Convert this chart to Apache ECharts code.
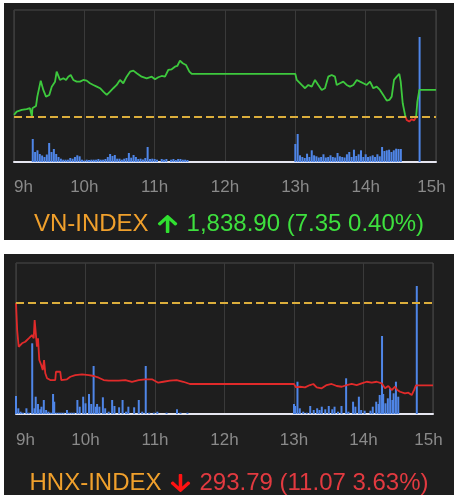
<!DOCTYPE html>
<html>
<head>
<meta charset="utf-8">
<script src="https://cdn.jsdelivr.net/npm/echarts@6/dist/echarts.min.js"></script>
<style>
  html, body { margin: 0; padding: 0; background: #ffffff; }
  body { width: 460px; height: 504px; position: relative; overflow: hidden; }
  .panel { position: absolute; background: #1e1e1e; }
  #vn { left: 4px; top: 3px; width: 450px; height: 237px; }
  #hnx { left: 4px; top: 254px; width: 450px; height: 241px; }
</style>
</head>
<body>
<div id="vn" class="panel"></div>
<div id="hnx" class="panel"></div>
<script>
// ---------- Data (time = minutes after 9:00) ----------
const tickLabels = ['9h', '10h', '11h', '12h', '13h', '14h', '15h'];

// VN-INDEX
const vnName = 'VN-INDEX';
const vnClose = '1,838.90';
const vnChange = '7.35';
const vnPct = '0.40%';
const vnRef = 1831.55;
const vnTime = [0, 2.3, 6.6, 10.8, 13.6, 15.0, 15.3, 15.7, 18.8, 19.9, 22.8, 25.0, 27.3, 30.1, 32.2, 35.0, 36.4, 37.8, 39.2, 42.1, 44.4,
  46.3, 48.4, 50.6, 53.5, 56.3, 59.1, 62.0, 64.8, 67.7, 70.6, 73.4, 76.2, 79.1, 81.9, 84.7, 87.6, 90.4, 93.2, 96.1, 99.0,
  101.8, 104.7, 108.9, 113.2, 117.5, 120.3, 123.1, 126.0, 128.8, 131.6, 134.5, 137.3, 139.3, 141.6, 143.9, 146.7, 149.6, 151.6,
  240, 241.2, 245.4, 248.3, 251.1, 254.0, 256.8, 259.6, 262.5, 265.3, 268.1, 271.0, 273.8, 275.3, 278.1, 280.9, 283.8,
  286.6, 289.5, 292.4, 295.2, 298.0, 300.9, 303.7, 306.5, 309.4, 312.2, 315.0, 318.0, 320.2, 322.2, 324.2, 326.5, 328.7,
  329.9, 331.6, 333.6, 335.0, 337.2, 339.3, 341.2, 343.0, 344.1, 345.8, 360];
const vnPrice = [1832.17, 1833.06, 1833.51, 1833.70, 1833.97, 1833.97, 1831.70, 1833.97, 1834.59, 1837.09, 1841.39, 1838.89, 1837.09, 1837.54, 1839.78, 1841.12, 1843.81, 1844.26, 1841.58, 1842.03, 1841.58,
  1842.46, 1842.92, 1841.58, 1841.12, 1841.12, 1841.58, 1841.39, 1840.69, 1840.23, 1839.78, 1839.35, 1838.43, 1837.54, 1838.43, 1839.35, 1840.23, 1841.58, 1840.69, 1842.46, 1843.81,
  1844.08, 1843.38, 1842.46, 1842.03, 1842.46, 1841.76, 1842.30, 1842.65, 1842.46, 1844.26, 1844.45, 1845.15, 1845.34, 1846.76, 1846.07, 1845.61, 1843.81, 1843.19,
  1843.19, 1841.58, 1840.23, 1839.35, 1840.23, 1839.78, 1841.58, 1840.23, 1838.89, 1839.35, 1842.46, 1842.92, 1842.46, 1840.23, 1840.69, 1841.12, 1840.23,
  1839.78, 1840.23, 1841.58, 1841.12, 1840.69, 1840.23, 1841.12, 1839.35, 1839.78, 1838.89, 1837.54, 1836.01, 1836.20, 1837.09, 1841.58, 1842.46, 1843.19,
  1841.12, 1835.31, 1832.17, 1830.82, 1830.37, 1831.01, 1830.64, 1831.55, 1835.74, 1838.90, 1838.90];
const vnVolTime = [16, 18, 20, 22, 24, 26, 28, 30, 32, 34, 36, 38, 40, 42, 44, 46, 48, 50, 52, 54, 56, 58, 60, 62, 64, 66, 68, 70, 72, 74, 76, 78,
  80, 82, 84, 86, 88, 90, 92, 94, 96, 98, 100, 102, 104, 106, 108, 110, 112, 114, 116, 118, 120, 122, 126, 128, 130, 134, 136, 138, 140, 142, 144, 146, 148,
  240, 242, 244, 246, 248, 250, 252, 254, 256, 258, 260, 262, 264, 266, 268, 270, 272, 274, 276, 278, 280, 282, 284, 286, 288, 290, 292, 294, 296, 298,
  300, 302, 304, 306, 308, 310, 312, 314, 316, 318, 320, 322, 324, 326, 328, 330, 346];
const vnVol = [23, 10, 11.7, 8, 6.5, 5, 7.5, 19, 10, 13, 8, 5, 3.3, 2.3, 2.3, 2.3, 4, 3.3, 5, 6.7, 5.7, 2.3, 1.5, 2.3, 2, 2.3, 2.3, 2.3, 3, 2.3, 2.3, 3,
  5, 8, 6, 7, 3.3, 3.3, 2.3, 3.3, 4, 9, 4.3, 7, 5, 3, 3.3, 2.5, 4, 15, 3, 3.3, 3, 2.3, 3, 2.3, 3, 2.3, 3, 2, 3, 3, 2.3, 2.3, 2,
  18, 28, 6.7, 5, 4, 8.3, 5, 11.7, 6.7, 5.7, 4.5, 5, 7.7, 4.5, 5, 6.7, 5, 4.5, 9, 5.7, 5, 4.5, 7.7, 10, 5, 12.3, 6, 7.7, 11.7, 5,
  7.7, 5, 5.7, 6.7, 5, 7.7, 5.7, 15, 11, 11.7, 12.3, 10, 11.7, 13.3, 13, 13, 125];

// HNX-INDEX
const hnxName = 'HNX-INDEX';
const hnxClose = '293.79';
const hnxChange = '11.07';
const hnxPct = '3.63%';
const hnxRef = 304.86;
const hnxTime = [0, 1, 2, 2.3, 3.7, 5.2, 8.0, 11.0, 13.8, 15.3, 16.1, 17.3, 18.1, 19.0, 20.1, 21.8, 23.1, 24.2, 25.3, 26.8,
  29.6, 33.9, 34.5, 38.2, 39.1, 44.0, 46.9, 51.2, 57.0, 62.8, 67.1, 71.4, 75.7, 80.0, 88.7, 94.4, 100.1, 105.9, 111.6, 117.4,
  122.8, 127.2, 132.9, 138.7, 144.4, 150.2, 240, 241.7, 245.2, 249.5, 253.8, 256.7, 259.6, 263.9, 268.2, 272.5, 276.9, 281.2,
  285.5, 289.8, 294.1, 298.4, 302.8, 307.1, 311.4, 315.7, 318.6, 321.4, 324.3, 327.2, 329.2, 331.5, 335.8, 338.7, 341.6, 343.6, 345.3, 360];
const hnxPrice = [304.86, 301.20, 300.97, 298.96, 298.96, 299.42, 299.63, 300.09, 300.53, 300.09, 302.54, 302.54, 298.96, 300.09, 297.18, 296.51, 295.84, 297.18, 295.40, 294.73,
  294.50, 294.50, 295.61, 295.61, 294.50, 294.60, 294.94, 295.17, 295.27, 295.17, 295.04, 294.81, 294.50, 294.41, 294.41, 294.50, 294.27, 294.50, 294.60, 294.60,
  294.14, 294.27, 294.41, 294.50, 294.27, 293.97, 293.97, 293.52, 293.60, 293.52, 293.83, 293.97, 293.52, 293.39, 293.83, 293.97, 293.70, 293.60,
  293.83, 293.97, 293.83, 294.06, 294.27, 294.14, 294.27, 294.06, 293.39, 293.70, 293.16, 293.60, 293.16, 292.93, 292.72, 292.80, 292.49, 293.16, 293.79, 293.79];
const hnxVolTime = [0, 2, 4, 6, 9, 11, 14, 16, 17, 19, 21, 22, 24, 26, 28, 30, 32, 33, 35, 37, 39, 41, 44, 46, 48, 50, 53, 55, 58, 60, 63, 65, 67, 69, 70, 72,
  75, 77, 80, 83, 85, 89, 92, 95, 97, 102, 106, 109, 112, 115, 119, 122, 130, 139, 142, 148,
  240, 241, 243, 245, 248, 251, 254, 257, 260, 262, 264, 267, 270, 273, 275, 278, 281, 285, 287, 291, 293, 296, 298, 301, 306, 308, 311, 313, 314,
  316, 317, 319, 321, 323, 325, 326, 328, 330, 346];
const hnxVol = [18, 5.7, 2.3, 1.3, 5.7, 1.3, 70.7, 5.7, 17.3, 10, 4.7, 7.3, 14, 4, 2.3, 1.3, 20, 12.3, 1.3, 1.3, 1.3, 1.3, 4, 1.3, 1.3, 1.3, 14, 7.3, 17.3, 10.7, 20, 10, 48, 7.3, 10, 7.3,
  16.7, 5.7, 2.3, 14, 8, 6.7, 14, 2.3, 7.3, 6.7, 14, 2.3, 48, 1.3, 1.3, 2.3, 1.3, 4.7, 1.3, 1.3,
  10, 8, 32.3, 5.7, 2.3, 1.3, 8, 4, 5.7, 4, 7.3, 4.7, 8, 4.7, 7.3, 2.3, 8, 35.7, 2.3, 12.3, 7.3, 17.3, 4, 3.3, 3.3, 7.3, 12.3, 10, 19,
  78, 20, 10.7, 15.7, 25.7, 14, 20.7, 32.3, 17.3, 128];

// ---------- Rendering ----------
const FONT = '"Liberation Sans", Arial, Helvetica, sans-serif';
const GREEN_LINE = '#3dc93d';
const RED_LINE = '#e12a2a';
const BLUE = '#4f86e8';
const REF_COLOR = '#dcae3c';

function zip(a, b) { return a.map((v, i) => [v, b[i]]); }

// solid arrow icon (up / down)
function arrowIcon(up, color) {
  const path = 'M34.9 289.5l-22.2-22.2c-9.4-9.4-9.4-24.6 0-33.9L207 39c9.4-9.4 24.6-9.4 33.9 0l194.3 194.3c9.4 9.4 9.4 24.6 0 33.9L413 289.4c-9.5 9.5-25 9.3-34.3-.4L264 168.6V456c0 13.3-10.7 24-24 24h-32c-13.3 0-24-10.7-24-24V168.6L69.2 289.1c-9.3 9.8-24.8 10-34.3.4z';
  const svg = '<svg xmlns="http://www.w3.org/2000/svg" viewBox="0 30 448 452" width="448" height="452">' +
    '<g' + (up ? '' : ' transform="rotate(180 224 256)"') + '><path fill="' + color + '" d="' + path + '"/></g></svg>';
  return 'data:image/svg+xml;charset=utf-8,' + encodeURIComponent(svg);
}

function buildOption(cfg) {
  return {
    animation: false,
    backgroundColor: '#1e1e1e',
    title: {
      left: 'center',
      top: cfg.titleTop,
      padding: 0,
      text: '{n|' + cfg.name + '}{g|}{a|}{g|}{v|' + cfg.close + ' (' + cfg.change + ' ' + cfg.pct + ')}',
      textStyle: {
        fontWeight: 'normal',
        rich: {
          n: { color: '#f0a02c', fontSize: 24, fontWeight: 'normal', fontFamily: FONT, lineHeight: 28 },
          g: { width: 9, height: 18 },
          a: { width: 20, height: 18, backgroundColor: { image: arrowIcon(cfg.up, cfg.up ? '#30e030' : '#ff1212') } },
          v: { color: cfg.up ? '#3ee03e' : '#e23a40', fontSize: 24, fontWeight: 'normal', fontFamily: FONT, lineHeight: 28 }
        }
      }
    },
    grid: {
      left: cfg.grid[0], top: cfg.grid[1], right: cfg.grid[2], bottom: cfg.grid[3],
      show: true, borderColor: '#4a4a4a', borderWidth: 1, backgroundColor: 'transparent'
    },
    xAxis: {
      type: 'value', min: 0, max: 360, interval: 60,
      axisLine: { show: true, onZero: false, lineStyle: { color: '#e6e6f0', width: 2 } },
      axisTick: { show: false },
      splitLine: { show: true, lineStyle: { color: '#3a3a3a', width: 1 } },
      axisLabel: {
        color: '#8a8a8a', fontSize: 17, fontFamily: FONT, margin: cfg.labelMargin,
        alignMinLabel: 'left',
        formatter: function (v) {
          const s = tickLabels[Math.round(v / 60)];
          return v === 360 ? '{e|' + s + '}' : s;
        },
        rich: { e: { color: '#8a8a8a', fontSize: 17, fontFamily: FONT, padding: [0, 9, 0, 0] } }
      }
    },
    yAxis: [
      { type: 'value', min: cfg.pMin, max: cfg.pMax, show: false, splitLine: { show: false } },
      { type: 'value', min: 0, max: cfg.vMax, show: false, splitLine: { show: false } }
    ],
    visualMap: {
      show: false, type: 'piecewise', seriesIndex: 1, dimension: 1,
      pieces: [
        { min: cfg.pMin, max: cfg.ref, color: RED_LINE },
        { min: cfg.ref, max: cfg.pMax, color: GREEN_LINE }
      ],
      outOfRange: { color: RED_LINE }
    },
    series: [
      {
        type: 'bar', yAxisIndex: 1, barWidth: 2,
        itemStyle: { color: BLUE },
        data: zip(cfg.volTime, cfg.vol), z: 2
      },
      {
        type: 'line', yAxisIndex: 0, showSymbol: false, symbol: 'none',
        lineStyle: { width: 1.8 },
        data: zip(cfg.time, cfg.price), z: 3
      },
      {
        type: 'line', yAxisIndex: 0, symbol: 'none', silent: true, data: [],
        markLine: {
          silent: true, symbol: 'none', label: { show: false },
          lineStyle: { color: REF_COLOR, type: [8, 4], width: 2 },
          data: [{ yAxis: cfg.ref }]
        }
      }
    ]
  };
}

const vnChart = echarts.init(document.getElementById('vn'), null, { renderer: 'canvas' });
vnChart.setOption(buildOption({
  name: vnName, close: vnClose, change: vnChange, pct: vnPct, up: true,
  ref: vnRef, time: vnTime, price: vnPrice, volTime: vnVolTime, vol: vnVol,
  pMin: 1819.5, pMax: 1860.4, vMax: 152,
  grid: [10, 7, 18, 78], labelMargin: 17, titleTop: 207
}));

const hnxChart = echarts.init(document.getElementById('hnx'), null, { renderer: 'canvas' });
hnxChart.setOption(buildOption({
  name: hnxName, close: hnxClose, change: hnxChange, pct: hnxPct, up: false,
  ref: hnxRef, time: hnxTime, price: hnxPrice, volTime: hnxVolTime, vol: hnxVol,
  pMin: 289.95, pMax: 310.18, vMax: 151,
  grid: [12, 9, 21, 81], labelMargin: 18, titleTop: 215
}));
</script>
</body>
</html>
